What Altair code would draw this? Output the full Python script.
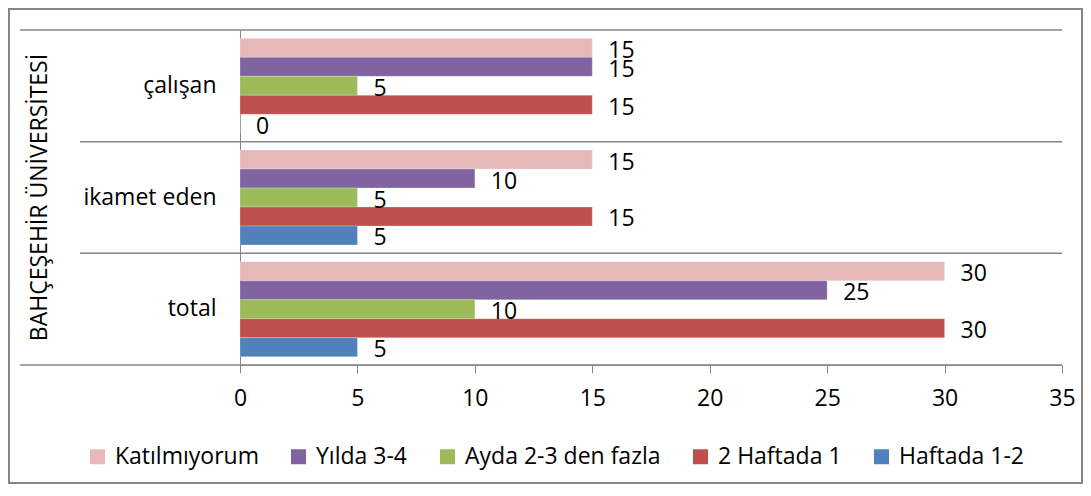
import altair as alt
import pandas as pd

# ---- data ----
cats = ["çalışan", "ikamet eden", "total"]
series = ["Katılmıyorum", "Yılda 3-4", "Ayda 2-3 den fazla", "2 Haftada 1", "Haftada 1-2"]
colors = ["#E6B9B8", "#8064A2", "#9BBB59", "#C0504D", "#4F81BD"]
katilmiyorum = [15, 15, 30]
yilda_3_4 = [15, 10, 25]
ayda_2_3 = [5, 5, 10]
iki_haftada_1 = [15, 15, 30]
haftada_1_2 = [0, 5, 5]
x_ticks = [0, 5, 10, 15, 20, 25, 30, 35]
group_label = "BAHÇEŞEHİR  ÜNİVERSİTESİ"

values_by_series = [katilmiyorum, yilda_3_4, ayda_2_3, iki_haftada_1, haftada_1_2]
rows = []
for s, vals in zip(series, values_by_series):
    for c, v in zip(cats, vals):
        rows.append({"cat": c, "series": s, "value": v})
df = pd.DataFrame(rows)

FONT = "Open Sans"
GRAY = "#868686"
W, H = 822, 335
PAD = {"left": 232, "top": 22, "right": 21, "bottom": 119}

y_scale = alt.Scale(domain=cats, paddingInner=0, paddingOuter=0)
yoff = alt.YOffset("series:N", sort=series,
                   scale=alt.Scale(domain=series, paddingInner=0, paddingOuter=0.44))
x_enc = alt.X("value:Q",
              scale=alt.Scale(domain=[0, 35], nice=False),
              axis=alt.Axis(values=x_ticks, title=None, grid=False,
                            domainColor=GRAY, tickColor=GRAY, tickSize=8,
                            labelPadding=14, labelFont=FONT, labelFontSize=23,
                            labelColor="black", labelFlush=False))

bars = alt.Chart(df).mark_bar(stroke="white", strokeWidth=0.4, strokeOpacity=0.6).encode(
    x=x_enc,
    y=alt.Y("cat:N", scale=y_scale,
            axis=alt.Axis(title=None, ticks=False, tickSize=0, labelPadding=24,
                          domainColor=GRAY, labelFont=FONT, labelFontSize=23,
                          labelColor="black", labelAngle=0)),
    yOffset=yoff,
    color=alt.Color("series:N",
                    scale=alt.Scale(domain=series, range=colors),
                    legend=alt.Legend(orient="none", direction="horizontal",
                                      legendX=-154, legendY=415, title=None,
                                      symbolType="square", symbolSize=225,
                                      symbolStrokeWidth=0, labelFont=FONT,
                                      labelFontSize=23, labelColor="black",
                                      labelOffset=6, columnPadding=28,
                                      labelLimit=0, padding=0)),
)

labels = alt.Chart(df).mark_text(align="left", baseline="middle", dx=16, dy=3,
                                 font=FONT, fontSize=23, color="black").encode(
    x=alt.X("value:Q", scale=alt.Scale(domain=[0, 35], nice=False)),
    y=alt.Y("cat:N", scale=y_scale),
    yOffset=yoff,
    text=alt.Text("value:Q"),
)

inner_df = pd.DataFrame({"cat": cats[1:]})
inner_rules = alt.Chart(inner_df).mark_rule(color=GRAY, strokeWidth=1.5).encode(
    y=alt.Y("cat:N", scale=y_scale, bandPosition=0),
    x=alt.value(-160), x2=alt.value(W),
)
top_rule = alt.Chart(pd.DataFrame({"cat": cats[:1]})).mark_rule(color=GRAY, strokeWidth=1.5).encode(
    y=alt.Y("cat:N", scale=y_scale, bandPosition=0),
    x=alt.value(-220), x2=alt.value(W),
)
bottom_rule = alt.Chart(pd.DataFrame({"cat": cats[-1:]})).mark_rule(color=GRAY, strokeWidth=1.5).encode(
    y=alt.Y("cat:N", scale=y_scale, bandPosition=1),
    x=alt.value(-220), x2=alt.value(W),
)

outer_label = alt.Chart(pd.DataFrame({"t": [group_label]})).mark_text(
    angle=270, align="center", baseline="middle", font=FONT, fontSize=23, color="black"
).encode(text="t:N", x=alt.value(-200), y=alt.value(H / 2))

border = alt.Chart(pd.DataFrame({"a": [0]})).mark_rect(
    fillOpacity=0, stroke=GRAY, strokeWidth=2
).encode(
    x=alt.value(-PAD["left"] + 1), x2=alt.value(W + PAD["right"] - 1),
    y=alt.value(-PAD["top"] + 1), y2=alt.value(H + PAD["bottom"] - 1),
)

chart = alt.layer(inner_rules, top_rule, bottom_rule, bars, labels, outer_label, border).properties(
    width=W, height=H, autosize="none", padding=PAD, background="white"
).configure_view(stroke=None)

chart.save("out.html", embed_options={"renderer": "svg", "actions": False})
